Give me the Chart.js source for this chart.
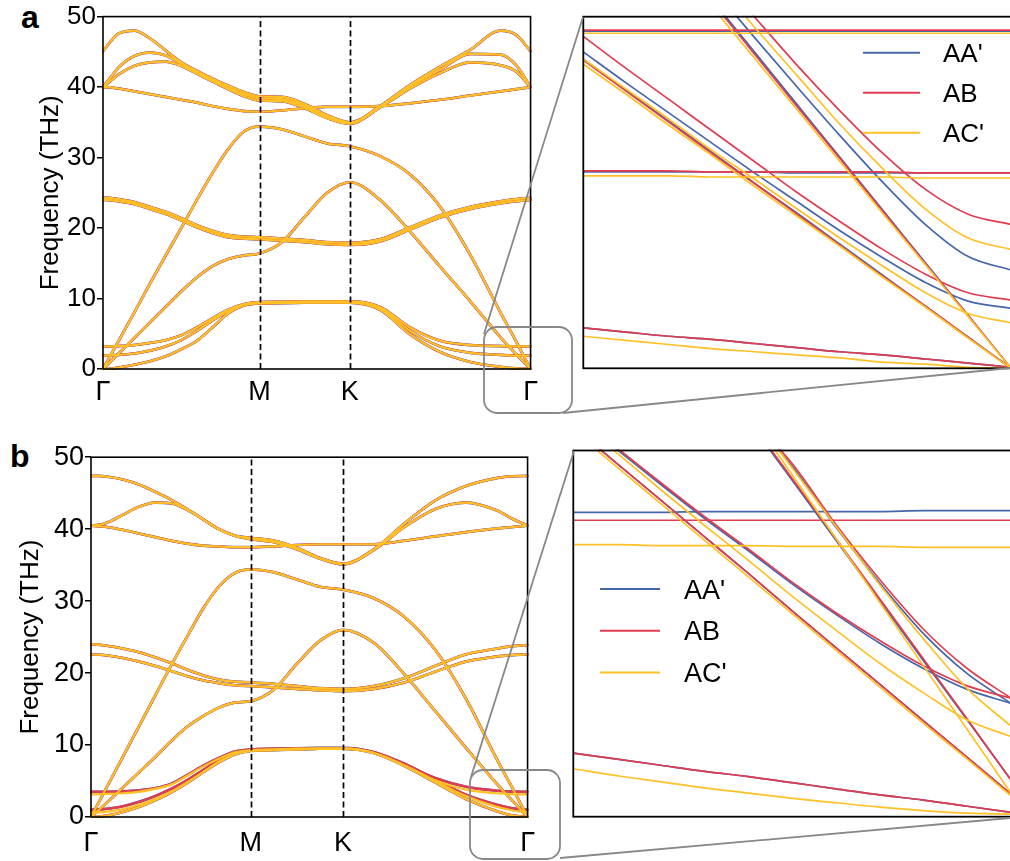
<!DOCTYPE html>
<html>
<head>
<meta charset="utf-8">
<script src="https://cdn.jsdelivr.net/npm/chart.js@4.4.1/dist/chart.umd.min.js"></script>
<style>
  html, body { margin: 0; padding: 0; background: #fff; width: 1010px; height: 861px; overflow: hidden; }
  #fig { position: relative; width: 1010px; height: 861px; font-family: 'Liberation Sans', Arial, sans-serif; }
  #fig canvas, #fig svg { position: absolute; }
  .tag { position: absolute; font: bold 32px 'Liberation Sans', Arial, sans-serif; line-height: 32px; }
</style>
</head>
<body>
<div id="fig">
  <div class="tag" style="left:21px;top:1px">a</div>
  <div class="tag" style="left:10px;top:440px">b</div>
  <canvas id="bands-a" width="545" height="410" style="left:0;top:0"></canvas>
  <canvas id="zoom-a" width="445" height="380" style="left:570px;top:0"></canvas>
  <canvas id="bands-b" width="545" height="419" style="left:0;top:440px"></canvas>
  <canvas id="zoom-b" width="455" height="390" style="left:560px;top:440px"></canvas>
  <svg width="1010" height="861" style="left:0;top:0;pointer-events:none">
    <g fill="none" stroke="#888" stroke-width="1.8">
      <rect x="484" y="327" width="88" height="86" rx="13"/>
      <line x1="484" y1="334" x2="583" y2="17"/>
      <line x1="563" y1="413" x2="1010" y2="368"/>
      <rect x="470" y="770" width="90" height="89" rx="13"/>
      <line x1="471" y1="777" x2="574" y2="451"/>
      <line x1="560" y1="858" x2="1010" y2="818"/>
    </g>
  </svg>
</div>

<script>
// ── Path and axes ───────────────────────────────────────────────────

// distance along Γ–M–K–Γ, |ΓM| = 1
const kPath = [0, 0.05, 0.1, 0.2, 0.3, 0.4, 0.5, 0.6, 0.7, 0.8, 0.9, 1.0,
  1.144, 1.289, 1.433, 1.577, 1.77, 1.962, 2.155, 2.347, 2.54, 2.64, 2.732];
const kTicks = [0, 1, 1.577, 2.732];
const kTickLabels = ['Γ', 'M', 'K', 'Γ'];
const freqTicks = [0, 10, 20, 30, 40, 50];

// zoom panels: relative position over the window ending at Γ
const qZoom = [0, 0.1, 0.2, 0.3, 0.4, 0.5, 0.6, 0.7, 0.8, 0.9, 1.0];

// ── Panel a bands (THz) ─────────────────────────────────────────────

const aZA  = [0, 0.05, 0.2, 0.6, 1.1, 1.8, 2.8, 4.0, 5.9, 7.9, 9.0, 9.3, 9.35, 9.4, 9.4, 9.4, 8.4, 4.9, 2.4, 1.0, 0.3, 0.08, 0];
const aSH  = [1.9, 1.95, 2.0, 2.2, 2.6, 3.2, 4.1, 5.4, 6.9, 8.2, 9.1, 9.4, 9.45, 9.5, 9.5, 9.5, 8.6, 5.4, 3.2, 2.3, 2.0, 1.9, 1.9];
const aZB  = [3.2, 3.2, 3.25, 3.4, 3.7, 4.1, 4.8, 5.9, 7.2, 8.4, 9.2, 9.5, 9.55, 9.6, 9.6, 9.6, 8.8, 5.9, 4.0, 3.4, 3.25, 3.2, 3.2];
const aTA  = [0, 1.1, 2.2, 4.4, 6.6, 8.8, 11.0, 13.0, 14.6, 15.6, 16.1, 16.4, 18.0, 21.6, 25.0, 26.5, 24.0, 19.5, 14.5, 9.6, 4.5, 2.1, 0];
const aLA  = [0, 2.0, 4.0, 8.0, 12.1, 16.1, 20.0, 24.0, 27.8, 31.2, 33.7, 34.4, 34.0, 33.0, 32.0, 31.6, 30.2, 27.6, 23.0, 16.2, 8.0, 3.9, 0];
const aZO1 = [24.3, 24.25, 24.1, 23.7, 23.0, 22.3, 21.4, 20.4, 19.6, 19.0, 18.8, 18.7, 18.5, 18.3, 18.0, 17.9, 18.4, 20.1, 21.8, 23.0, 23.8, 24.1, 24.3];
const aZO2 = [24.0, 23.95, 23.8, 23.4, 22.7, 22.0, 21.1, 20.1, 19.3, 18.7, 18.5, 18.4, 18.2, 18.0, 17.7, 17.6, 18.1, 19.8, 21.5, 22.7, 23.5, 23.8, 24.0];
const aT1  = [45.1, 46.5, 47.6, 48.0, 46.9, 45.2, 43.5, 42.3, 41.2, 40.2, 39.3, 38.7, 38.6, 37.6, 36.0, 35.0, 37.3, 40.3, 42.9, 45.3, 48.0, 47.4, 45.1];
const aT2  = [40.0, 41.4, 42.8, 44.4, 44.9, 44.5, 43.3, 42.1, 41.0, 39.9, 39.0, 38.4, 38.3, 37.3, 35.8, 34.9, 37.2, 40.1, 42.5, 44.7, 44.6, 43.1, 40.0];
const aT3  = [40.0, 40.9, 41.8, 43.0, 43.5, 43.6, 43.0, 41.9, 40.8, 39.7, 38.7, 38.1, 38.0, 37.0, 35.6, 34.8, 37.1, 39.8, 42.0, 43.5, 43.1, 42.2, 40.0];
const aT4  = [40.0, 39.95, 39.8, 39.4, 39.0, 38.6, 38.2, 37.8, 37.3, 36.9, 36.6, 36.5, 36.7, 37.0, 37.2, 37.2, 37.3, 37.7, 38.2, 38.8, 39.4, 39.7, 40.0];

// ── Panel b bands (THz) ─────────────────────────────────────────────

const bZA   = [0, 0.05, 0.2, 0.7, 1.4, 2.3, 3.4, 4.7, 6.2, 7.6, 8.7, 9.2, 9.3, 9.4, 9.5, 9.5, 8.9, 7.1, 4.8, 2.5, 0.8, 0.2, 0];
const bSH   = [1.0, 1.05, 1.15, 1.5, 2.1, 2.9, 3.9, 5.1, 6.5, 7.9, 8.9, 9.3, 9.35, 9.45, 9.5, 9.5, 9.0, 7.4, 5.2, 3.1, 1.7, 1.2, 1.0];
const bSHc  = [0.6, 0.65, 0.75, 1.1, 1.7, 2.5, 3.5, 4.8, 6.2, 7.7, 8.8, 9.2, 9.3, 9.4, 9.45, 9.45, 8.9, 7.2, 5.0, 2.9, 1.4, 0.9, 0.6];
const bZB   = [3.5, 3.5, 3.5, 3.55, 3.7, 4.0, 4.6, 5.8, 7.1, 8.2, 9.1, 9.4, 9.5, 9.55, 9.6, 9.6, 9.0, 7.3, 5.4, 4.2, 3.65, 3.52, 3.5];
const bZBc  = [3.15, 3.15, 3.2, 3.3, 3.5, 3.9, 4.5, 5.7, 7.0, 8.1, 9.0, 9.3, 9.4, 9.5, 9.55, 9.55, 8.9, 7.1, 5.1, 3.8, 3.3, 3.18, 3.15];
const bTA   = [0, 1.0, 2.0, 4.1, 6.2, 8.3, 10.5, 12.5, 14.0, 15.2, 15.9, 16.1, 17.7, 21.3, 24.5, 26.0, 24.2, 19.8, 14.7, 9.6, 4.6, 2.2, 0];
const bLA   = [0, 2.1, 4.2, 8.4, 12.6, 16.8, 21.0, 25.0, 28.9, 32.0, 33.9, 34.4, 34.0, 33.0, 32.0, 31.6, 30.4, 27.8, 23.2, 16.4, 8.0, 3.9, 0];
const bZO1  = [24.0, 23.95, 23.8, 23.4, 22.9, 22.2, 21.4, 20.5, 19.7, 19.1, 18.8, 18.7, 18.5, 18.2, 17.9, 17.8, 18.2, 19.3, 21.0, 22.6, 23.4, 23.75, 23.9];
const bZO2  = [22.6, 22.55, 22.45, 22.1, 21.6, 21.0, 20.3, 19.6, 19.0, 18.6, 18.3, 18.2, 18.0, 17.8, 17.6, 17.5, 17.8, 18.7, 20.2, 21.6, 22.3, 22.5, 22.6];
const bT1   = [47.4, 47.4, 47.3, 46.9, 46.2, 45.2, 44.1, 42.8, 41.4, 40.0, 39.1, 38.8, 38.4, 37.4, 36.0, 35.2, 37.2, 40.8, 44.0, 46.0, 47.1, 47.35, 47.4];
const bT2   = [40.5, 40.6, 40.9, 42.0, 43.1, 43.7, 43.6, 42.7, 41.4, 40.0, 39.1, 38.6, 38.2, 37.2, 35.9, 35.1, 37.1, 40.3, 42.8, 43.7, 42.6, 41.4, 40.5];
const bT4   = [40.5, 40.4, 40.3, 39.9, 39.4, 38.9, 38.4, 38.0, 37.7, 37.6, 37.5, 37.5, 37.6, 37.8, 37.9, 37.9, 37.9, 38.4, 39.0, 39.6, 40.1, 40.3, 40.5];

// ── Zoom a: low-frequency window near Γ (THz) ───────────────────────

const zaTop  = { aa: [3.26, 3.26, 3.26, 3.26, 3.26, 3.26, 3.26, 3.26, 3.26, 3.26, 3.26],
                 ab: [3.27, 3.27, 3.27, 3.27, 3.27, 3.27, 3.27, 3.27, 3.27, 3.27, 3.27],
                 ac: [3.24, 3.24, 3.24, 3.24, 3.24, 3.24, 3.24, 3.24, 3.24, 3.24, 3.24] };
const zaMid  = { aa: [1.90, 1.90, 1.90, 1.90, 1.90, 1.89, 1.89, 1.89, 1.89, 1.89, 1.89],
                 ab: [1.91, 1.91, 1.91, 1.90, 1.90, 1.90, 1.90, 1.90, 1.89, 1.89, 1.89],
                 ac: [1.86, 1.86, 1.86, 1.85, 1.85, 1.85, 1.85, 1.85, 1.84, 1.84, 1.84] };
const zaLA   = { aa: [null, null, 4.08, 3.57, 3.06, 2.55, 2.04, 1.53, 1.02, 0.51, 0],
                 ab: [null, null, 4.05, 3.55, 3.04, 2.53, 2.03, 1.52, 1.01, 0.51, 0],
                 ac: [null, null, 4.00, 3.50, 3.00, 2.50, 2.00, 1.50, 1.00, 0.50, 0] };
const zaLS   = { aa: [null, null, null, 3.69, 3.20, 2.72, 2.25, 1.80, 1.39, 1.08, 0.95],
                 ab: [null, null, null, 3.88, 3.40, 2.93, 2.49, 2.08, 1.73, 1.49, 1.39],
                 ac: [null, null, null, 3.79, 3.30, 2.83, 2.36, 1.93, 1.54, 1.26, 1.15] };
const zaTA   = { aa: [2.99, 2.69, 2.39, 2.09, 1.79, 1.50, 1.20, 0.90, 0.60, 0.30, 0],
                 ab: [2.98, 2.68, 2.38, 2.08, 1.79, 1.49, 1.19, 0.89, 0.60, 0.30, 0],
                 ac: [2.94, 2.65, 2.35, 2.06, 1.76, 1.47, 1.18, 0.88, 0.59, 0.29, 0] };
const zaTS   = { aa: [3.06, 2.76, 2.47, 2.18, 1.89, 1.61, 1.33, 1.07, 0.83, 0.65, 0.58],
                 ab: [3.21, 2.90, 2.60, 2.30, 2.00, 1.70, 1.42, 1.15, 0.91, 0.73, 0.66],
                 ac: [2.99, 2.70, 2.41, 2.11, 1.83, 1.54, 1.26, 0.99, 0.73, 0.53, 0.44] };
const zaZA   = { aa: [0.39, 0.35, 0.31, 0.28, 0.24, 0.20, 0.16, 0.13, 0.09, 0.05, 0.01],
                 ab: [0.39, 0.35, 0.31, 0.28, 0.24, 0.20, 0.16, 0.13, 0.09, 0.05, 0.01],
                 ac: [0.31, 0.27, 0.23, 0.19, 0.16, 0.13, 0.10, 0.06, 0.04, 0.01, 0] };

// ── Zoom b (THz) ────────────────────────────────────────────────────

const zbTop  = { aa: [3.49, 3.49, 3.49, 3.50, 3.50, 3.50, 3.50, 3.50, 3.51, 3.51, 3.51],
                 ab: [3.40, 3.40, 3.40, 3.40, 3.40, 3.40, 3.40, 3.40, 3.40, 3.40, 3.40],
                 ac: [3.12, 3.12, 3.11, 3.11, 3.11, 3.10, 3.10, 3.10, 3.09, 3.09, 3.09] };
const zbLA   = { aa: [null, null, null, 5.23, 4.54, 3.86, 3.17, 2.48, 1.79, 1.11, 0.42],
                 ab: [null, null, null, 5.25, 4.56, 3.88, 3.19, 2.50, 1.81, 1.12, 0.42],
                 ac: [null, null, null, 5.38, 4.65, 3.92, 3.19, 2.46, 1.73, 1.00, 0.27] };
const zbLS   = { aa: [null, null, null, null, 4.58, 4.02, 3.32, 2.68, 2.10, 1.64, 1.30],
                 ab: [null, null, null, null, 4.60, 4.05, 3.35, 2.72, 2.15, 1.70, 1.36],
                 ac: [null, null, null, null, 4.67, 4.00, 3.33, 2.66, 2.04, 1.47, 1.04] };
const zbTA   = { aa: [4.47, 4.05, 3.63, 3.21, 2.79, 2.36, 1.94, 1.52, 1.10, 0.68, 0.26],
                 ab: [4.47, 4.05, 3.63, 3.21, 2.79, 2.36, 1.94, 1.52, 1.10, 0.68, 0.26],
                 ac: [4.43, 4.01, 3.59, 3.17, 2.75, 2.33, 1.91, 1.49, 1.07, 0.66, 0.24] };
const zbTS   = { aa: [4.60, 4.21, 3.81, 3.42, 3.05, 2.67, 2.32, 1.99, 1.70, 1.46, 1.30],
                 ab: [4.62, 4.23, 3.83, 3.44, 3.07, 2.69, 2.34, 2.02, 1.73, 1.50, 1.36],
                 ac: [4.58, 4.17, 3.75, 3.34, 2.94, 2.53, 2.14, 1.76, 1.42, 1.11, 0.92] };
const zbZA   = { aa: [0.73, 0.66, 0.59, 0.52, 0.46, 0.39, 0.32, 0.25, 0.19, 0.12, 0.05],
                 ab: [0.73, 0.66, 0.59, 0.52, 0.46, 0.39, 0.32, 0.25, 0.19, 0.12, 0.05],
                 ac: [0.55, 0.47, 0.40, 0.33, 0.27, 0.21, 0.16, 0.11, 0.07, 0.04, 0.03] };

// ── Stackings ───────────────────────────────────────────────────────

const STACKINGS = [
  { key: 'aa', label: "AA'", color: '#4566aa', mainWidth: 2.7, order: 2 },
  { key: 'ab', label: 'AB',  color: '#e23c50', mainWidth: 2.5, order: 1 },
  { key: 'ac', label: "AC'", color: '#ffc125', mainWidth: 2.2, order: 0 },
];

const bandsA = { aa: [aZA, aSH, aZB, aTA, aLA, aZO1, aZO2, aT1, aT2, aT3, aT4] };
bandsA.ab = bandsA.aa;
bandsA.ac = bandsA.aa;

const bandsB = {
  aa: [bZA, bSH, bZB, bTA, bLA, bZO1, bZO2, bT1, bT2, bT4],
  ab: [bZA, bSH, bZB, bTA, bLA, bZO1, bZO2, bT1, bT2, bT4],
  ac: [bZA, bSHc, bZBc, bTA, bLA, bZO1, bZO2, bT1, bT2, bT4],
};

const zoomA = [zaTop, zaMid, zaLA, zaLS, zaTA, zaTS, zaZA];
const zoomB = [zbTop, zbLA, zbLS, zbTA, zbTS, zbZA];

// ── Helpers ─────────────────────────────────────────────────────────

const FONT = "'Liberation Sans', Arial, sans-serif";

function toPoints(xs, ys) {
  return xs.map((x, i) => ({ x, y: ys[i] }));
}

function mainDatasets(bands) {
  const sets = [];
  STACKINGS.forEach(s => {
    bands[s.key].forEach(band => {
      sets.push({
        label: s.label,
        data: toPoints(kPath, band),
        borderColor: s.color,
        borderWidth: s.mainWidth,
        order: s.order,
      });
    });
  });
  return sets;
}

function zoomDatasets(series) {
  const sets = [];
  STACKINGS.forEach(s => {
    series.forEach(line => {
      sets.push({
        label: s.label,
        data: toPoints(qZoom, line[s.key]),
        borderColor: s.color,
        borderWidth: 1.7,
        order: s.order,
      });
    });
  });
  return sets;
}

// box around the plot area, plus dashed markers at M and K
const framePlugin = {
  id: 'frame',
  afterDatasetsDraw(chart, args, opts) {
    const { ctx, chartArea: { left, top, right, bottom } } = chart;
    ctx.save();
    if (opts.markers) {
      const xs = chart.scales.x;
      ctx.strokeStyle = '#000';
      ctx.lineWidth = 1.7;
      ctx.setLineDash([6, 3.5]);
      opts.markers.forEach(v => {
        const px = Math.round(xs.getPixelForValue(v)) + 0.5;
        ctx.beginPath();
        ctx.moveTo(px, bottom);
        ctx.lineTo(px, top);
        ctx.stroke();
      });
      ctx.setLineDash([]);
    }
    ctx.strokeStyle = '#000';
    ctx.lineWidth = opts.width;
    ctx.strokeRect(left, top, right - left, bottom - top);
    ctx.restore();
  }
};

// stacked line key drawn inside the zoom panels
const keyPlugin = {
  id: 'stackKey',
  afterDraw(chart, args, opts) {
    if (!opts.x) return;
    const ctx = chart.ctx;
    ctx.save();
    ctx.font = `${opts.size}px ${FONT}`;
    ctx.textBaseline = 'alphabetic';
    STACKINGS.forEach((s, i) => {
      const y = opts.y + i * opts.gap;
      ctx.strokeStyle = s.color;
      ctx.lineWidth = 2;
      ctx.beginPath();
      ctx.moveTo(opts.x, y);
      ctx.lineTo(opts.x + opts.len, y);
      ctx.stroke();
      ctx.fillStyle = '#000';
      ctx.fillText(s.label, opts.x + opts.len + opts.pad, y + opts.size * 0.358);
    });
    ctx.restore();
  }
};

Chart.register(framePlugin, keyPlugin);

function bandChart(canvasId, bands, cfg) {
  return new Chart(document.getElementById(canvasId), {
    type: 'line',
    data: { datasets: mainDatasets(bands) },
    options: {
      responsive: false,
      animation: false,
      events: [],
      layout: { padding: cfg.padding },
      elements: {
        point: { radius: 0 },
        line: { cubicInterpolationMode: 'monotone', borderCapStyle: 'round', borderJoinStyle: 'round' },
      },
      datasets: { line: { clip: 1 } },
      plugins: {
        legend: { display: false },
        tooltip: { enabled: false },
        frame: { width: 1.6, markers: [kTicks[1], kTicks[2]] },
      },
      scales: {
        x: {
          type: 'linear',
          min: 0,
          max: kTicks[kTicks.length - 1],
          afterBuildTicks: ax => { ax.ticks = kTicks.map(v => ({ value: v })); },
          afterFit: s => { s.height = cfg.xHeight; },
          ticks: {
            autoSkip: false,
            maxRotation: 0,
            padding: cfg.xPad,
            color: '#000',
            font: { family: FONT, size: 27 },
            callback: (v, i) => kTickLabels[i],
          },
          grid: { display: false, drawTicks: false },
          border: { display: false },
        },
        y: {
          min: 0,
          max: 50,
          afterBuildTicks: ax => { ax.ticks = freqTicks.map(v => ({ value: v })); },
          afterFit: s => { s.width = cfg.yWidth; },
          ticks: {
            padding: 1,
            color: '#000',
            font: { family: FONT, size: cfg.tickSize },
          },
          grid: { drawOnChartArea: false, tickLength: 6, color: '#000', lineWidth: 1.5 },
          border: { display: false },
          title: {
            display: true,
            text: 'Frequency (THz)',
            color: '#000',
            font: { family: FONT, size: 26 },
            padding: { top: cfg.titlePad, bottom: 0 },
          },
        },
      },
    },
  });
}

function zoomChart(canvasId, series, cfg) {
  return new Chart(document.getElementById(canvasId), {
    type: 'line',
    data: { datasets: zoomDatasets(series) },
    options: {
      responsive: false,
      animation: false,
      events: [],
      layout: { padding: cfg.padding },
      elements: {
        point: { radius: 0 },
        line: { cubicInterpolationMode: 'monotone' },
      },
      datasets: { line: { clip: 1 } },
      plugins: {
        legend: { display: false },
        tooltip: { enabled: false },
        frame: { width: 1.8 },
        stackKey: cfg.key,
      },
      scales: {
        x: { type: 'linear', min: 0, max: 1, display: false },
        y: { min: 0, max: cfg.yMax, display: false },
      },
    },
  });
}

// ── Render ──────────────────────────────────────────────────────────

bandChart('bands-a', bandsA, {
  padding: { left: 0, top: 15.5, right: 13, bottom: 0 },
  yWidth: 103, xHeight: 41, xPad: 7, tickSize: 26, titlePad: 35,
});

bandChart('bands-b', bandsB, {
  padding: { left: 0, top: 12.3, right: 12.3, bottom: 0 },
  yWidth: 91, xHeight: 42, xPad: 10, tickSize: 27, titlePad: 15,
});

zoomChart('zoom-a', zoomA, {
  padding: { left: 13.3, top: 16.7, right: 4, bottom: 11.7 },
  yMax: 3.4,
  key: { x: 293, y: 52.7, gap: 40, len: 57, pad: 23, size: 26 },
});

zoomChart('zoom-b', zoomB, {
  padding: { left: 13.3, top: 10.5, right: 4, bottom: 13.3 },
  yMax: 4.2,
  key: { x: 40, y: 149, gap: 41.7, len: 60, pad: 24, size: 27 },
});
</script>
</body>
</html>
